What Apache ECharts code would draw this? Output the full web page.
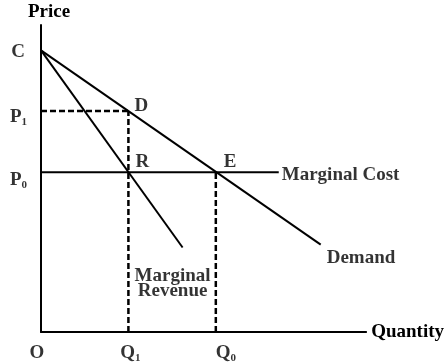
<!DOCTYPE html>
<html>
<head>
<meta charset="utf-8">
<script src="https://cdn.jsdelivr.net/npm/echarts@6/dist/echarts.min.js"></script>
<style>
  html, body { margin: 0; padding: 0; background: #fff; }
  #chart { width: 447px; height: 362px; }
</style>
</head>
<body>
<div id="chart"></div>
<script>
// values (quantity units / price units)
var quantities = [0, 5, 10];            // O, Q1, Q0
var prices = [5.67, 7.85, 10];          // P0, P1, C
var demand = [[0, 10], [16.0, 3.1]];
var marginalRevenue = [[0, 10], [8.1, 3.0]];
var marginalCost = [[0, 5.67], [13.6, 5.67]];
var guideP1 = [[0, 7.85], [5, 7.85]];
var guideQ1 = [[5, 0], [5, 7.85]];
var guideQ0 = [[10, 0], [10, 5.67]];

var FONT = 'Liberation Serif';
var SIZE = 19;
var chart = echarts.init(document.getElementById('chart'));

var rich = {
  b: { fontFamily: FONT, fontWeight: 'bold', fontSize: SIZE, color: '#000' },
  s: { fontFamily: FONT, fontWeight: 'bold', fontSize: 11, color: '#000', verticalAlign: 'bottom', padding: [9, 0, 0, 0] }
};

function solid(data) {
  return { type: 'line', data: data, symbol: 'none', silent: true,
    lineStyle: { color: '#000', width: 2 } };
}
function dashed(data) {
  return { type: 'line', data: data, symbol: 'none', silent: true,
    lineStyle: { color: '#000', width: 2.5, type: [6, 3] } };
}
// a text tied to a data point
function tag(value, text, pos, dist, off, lh) {
  return {
    value: value,
    label: {
      show: true, formatter: text, position: pos, distance: dist, offset: off,
      fontFamily: FONT, fontWeight: 'bold', fontSize: SIZE, color: '#000',
      lineHeight: lh || 21, rich: rich
    }
  };
}

var labels = [
  tag([0, prices[2]], 'C', 'left', 16, [0, 2]),
  tag([0, prices[1]], '{b|P}{s|1}', 'left', 14, [0, 6]),
  tag([0, prices[0]], '{b|P}{s|0}', 'left', 14, [0, 8]),
  tag([quantities[0], 0], 'O', 'bottom', 11, [-4, 0]),
  tag([quantities[1], 0], '{b|Q}{s|1}', 'bottom', 11, [2, 0]),
  tag([quantities[2], 0], '{b|Q}{s|0}', 'bottom', 11, [10, 0]),
  tag(guideP1[1], 'D', 'right', 6, [0, -5]),
  tag([quantities[1], prices[0]], 'R', 'right', 7, [0, -10]),
  tag([quantities[2], prices[0]], 'E', 'right', 8, [0, -10]),
  tag(marginalCost[1], 'Marginal Cost', 'right', 3, [0, 3]),
  tag(demand[1], 'Demand', 'right', 6, [0, 13]),
  tag(marginalRevenue[1], 'Marginal\nRevenue', 'bottom', 21, [-10, 0], 15)
];

chart.setOption({
  animation: false,
  grid: { left: 41, right: 79, top: 25, bottom: 30 },
  xAxis: {
    type: 'value', min: 0, max: 18.6,
    name: 'Quantity', nameLocation: 'end', nameGap: 5,
    nameTextStyle: { fontFamily: FONT, fontWeight: 'bold', fontSize: SIZE, color: '#000', verticalAlign: 'middle' },
    axisLine: { lineStyle: { color: '#000', width: 2 } },
    axisTick: { show: false }, axisLabel: { show: false }, splitLine: { show: false }
  },
  yAxis: {
    type: 'value', min: 0, max: 10.9,
    name: 'Price', nameLocation: 'end', nameGap: 3,
    nameTextStyle: { fontFamily: FONT, fontWeight: 'bold', fontSize: SIZE, color: '#000', align: 'center', padding: [0, 0, 0, 16] },
    axisLine: { lineStyle: { color: '#000', width: 2 } },
    axisTick: { show: false }, axisLabel: { show: false }, splitLine: { show: false }
  },
  series: [
    dashed(guideP1),
    dashed(guideQ1),
    dashed(guideQ0),
    solid(demand),
    solid(marginalRevenue),
    solid(marginalCost),
    { type: 'scatter', symbolSize: 0, silent: true, data: labels }
  ]
});
</script>
</body>
</html>
